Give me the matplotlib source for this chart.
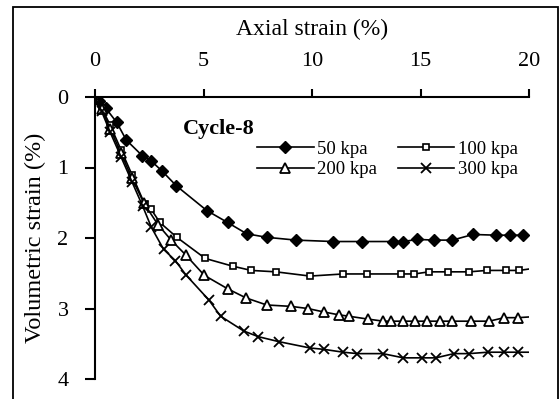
import numpy as np
import matplotlib.pyplot as plt
from matplotlib.patches import Rectangle

plt.rcParams['font.family'] = ['Liberation Serif', 'DejaVu Serif']

# axial strain (%) / volumetric strain (%) for each confining pressure
x50 = [0, 0.2, 0.5, 1.0, 1.44, 2.17, 2.6, 3.09, 3.75, 5.15, 6.11, 6.99, 7.91, 9.26,
       10.97, 12.29, 13.72, 14.2, 14.86, 15.63, 16.47, 17.42, 18.5, 19.12, 19.74]
y50 = [0, 0.06, 0.16, 0.36, 0.61, 0.83, 0.91, 1.05, 1.26, 1.61, 1.78, 1.94, 1.99, 2.03,
       2.05, 2.05, 2.05, 2.05, 2.02, 2.03, 2.03, 1.95, 1.96, 1.96, 1.96]

# last point of the other three series (x=20) has no marker in the original
x100 = [0, 0.3, 0.7, 1.2, 1.7, 2.29, 2.58, 2.99, 3.77, 5.08, 6.35, 7.2, 8.34, 9.91,
        11.44, 12.55, 14.1, 14.72, 15.39, 16.25, 17.24, 18.05, 18.92, 19.55, 20]
y100 = [0, 0.15, 0.4, 0.75, 1.1, 1.52, 1.59, 1.78, 1.99, 2.29, 2.40, 2.46, 2.48, 2.54,
        2.51, 2.51, 2.51, 2.51, 2.48, 2.48, 2.48, 2.46, 2.46, 2.46, 2.44]

x200 = [0, 0.3, 0.7, 1.2, 1.7, 2.26, 2.9, 3.51, 4.18, 5.04, 6.11, 6.96, 7.91, 9.04,
        9.8, 10.56, 11.24, 11.71, 12.57, 13.29, 13.64, 14.18, 14.75, 15.31, 15.9,
        16.47, 17.31, 18.17, 18.86, 19.51, 20]
y200 = [0, 0.17, 0.45, 0.8, 1.15, 1.51, 1.81, 2.03, 2.24, 2.53, 2.72, 2.85, 2.95, 2.97,
        3.0, 3.05, 3.09, 3.11, 3.15, 3.18, 3.18, 3.18, 3.18, 3.18, 3.18,
        3.18, 3.18, 3.18, 3.13, 3.13, 3.12]

x300 = [0, 0.3, 0.7, 1.2, 1.7, 2.2, 2.6, 3.16, 3.7, 4.18, 5.25, 5.79, 6.86, 7.53, 8.47,
        9.91, 10.56, 11.44, 12.09, 13.26, 14.21, 15.05, 15.71, 16.54, 17.24, 18.1,
        18.86, 19.51, 20]
y300 = [0, 0.2, 0.5, 0.85, 1.2, 1.55, 1.85, 2.16, 2.32, 2.52, 2.88, 3.11, 3.32, 3.40, 3.47,
        3.56, 3.58, 3.62, 3.64, 3.64, 3.70, 3.70, 3.70, 3.64, 3.64, 3.62,
        3.62, 3.62, 3.62]

xticks = [0, 5, 10, 15, 20]
yticks = [0, 1, 2, 3, 4]

fig = plt.figure(figsize=(5.59, 3.99), dpi=100)
# chart border
fig.patches.append(Rectangle((13 / 559, -0.01), 545 / 559, 1 - 7 / 399 + 0.01,
                             transform=fig.transFigure, fill=False, lw=1.3, ec='black'))
ax = fig.add_axes([95 / 559, 1 - 379 / 399, 434 / 559, 282 / 399])

l50, = ax.plot(x50, y50, color='black', lw=1.2, marker='D', ms=6, mfc='black', label='50 kpa')
l100, = ax.plot(x100, y100, color='black', lw=1.2, marker='s', ms=4.5, mfc='white', mew=1.2,
                markevery=slice(0, -1), label='100 kpa')
l200, = ax.plot(x200, y200, color='black', lw=1.2, marker='^', ms=6.5, mfc='white', mew=1.3,
                markevery=slice(0, -1), label='200 kpa')
l300, = ax.plot(x300, y300, color='black', lw=1.2, marker='x', ms=6.5, mew=1.3,
                markevery=slice(0, -1), label='300 kpa')

ax.set_xlim(0, 20)
ax.set_ylim(4, 0)
ax.xaxis.tick_top()
ax.xaxis.set_label_position('top')
ax.set_xticks(xticks)
ax.set_yticks(yticks)
for s in ['right', 'bottom']:
    ax.spines[s].set_visible(False)
for s in ['left', 'top']:
    ax.spines[s].set_linewidth(1.5)
ax.tick_params(axis='x', direction='out', length=6, width=1.5, labelsize=16, pad=13)
ax.tick_params(axis='y', direction='out', length=7, width=1.5, labelsize=16, pad=12)
ax.set_xlabel('Axial strain (%)', fontsize=17, labelpad=12)
ax.set_ylabel('Volumetric strain (%)', fontsize=17.5, labelpad=8)

ax.text(0.203, 0.888, 'Cycle-8', transform=ax.transAxes, fontsize=16,
        fontweight='bold', ha='left', va='center')
# row-wise order: 50, 100 / 200, 300
ax.legend([l50, l200, l100, l300], ['50 kpa', '200 kpa', '100 kpa', '300 kpa'],
          ncol=2, loc='upper left', bbox_to_anchor=(0.374, 0.846), frameon=False,
          fontsize=13.5, handlelength=3.0, handletextpad=0.2, columnspacing=1.1,
          labelspacing=0.2, borderpad=0, borderaxespad=0)

fig.savefig('out.png', dpi=100)
